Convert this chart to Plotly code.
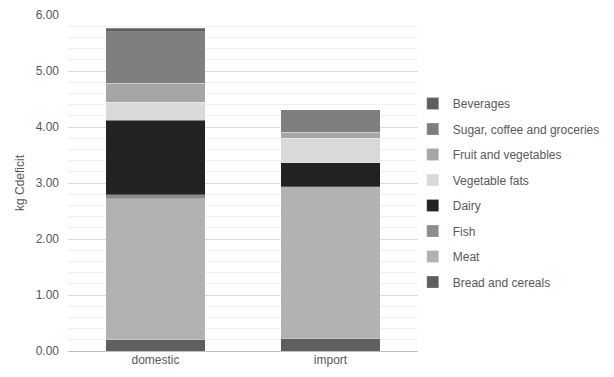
import plotly.graph_objects as go

categories = ["domestic", "import"]
series_names = ["Bread and cereals", "Meat", "Fish", "Dairy", "Vegetable fats",
                "Fruit and vegetables", "Sugar, coffee and groceries", "Beverages"]
bread = [0.20, 0.22]
meat = [2.52, 2.71]
fish = [0.07, 0.00]
dairy = [1.33, 0.43]
vegfats = [0.32, 0.44]
fruit = [0.34, 0.11]
sugar = [0.92, 0.40]
beverages = [0.06, 0.00]
values = [bread, meat, fish, dairy, vegfats, fruit, sugar, beverages]
colors = ["#5f5f5f", "#b2b2b2", "#8c8c8c", "#222222", "#d9d9d9",
          "#a6a6a6", "#7f7f7f", "#5f5f5f"]

fig = go.Figure()
n = len(series_names)
for i, (name, vals, col) in enumerate(zip(series_names, values, colors)):
    fig.add_trace(go.Bar(
        x=categories, y=vals, name=name, legendgroup=name,
        legendrank=1000 - i,
        marker=dict(color=col, line=dict(color="rgba(255,255,255,0.5)", width=0.5)),
        width=0.57,
    ))

font = dict(family="Liberation Sans, Arial, sans-serif", size=12, color="#595959")
fig.update_layout(
    barmode="stack",
    width=614, height=377,
    margin=dict(l=68, r=196, t=15, b=26, autoexpand=False),
    paper_bgcolor="white", plot_bgcolor="white",
    font=font,
    showlegend=True,
    legend=dict(traceorder="grouped", x=0.985, xanchor="left", y=0.47, yanchor="middle",
                font=dict(family="Liberation Sans, Arial, sans-serif", size=12, color="#595959"),
                tracegroupgap=6.5, itemwidth=30, bgcolor="rgba(0,0,0,0)"),
    xaxis=dict(range=[-0.5, 1.5], showgrid=False, showline=False, ticks="",
               tickfont=font),
    yaxis=dict(range=[0, 6], dtick=1, tickformat=".2f", showgrid=True,
               gridcolor="#d9d9d9", gridwidth=1,
               minor=dict(dtick=0.2, showgrid=True, gridcolor="#f0f0f0", gridwidth=1),
               zeroline=True, zerolinecolor="#bfbfbf", zerolinewidth=1,
               title=dict(text="kg Cdeficit", font=font, standoff=8),
               tickfont=font, ticks="", ticklabelstandoff=8),
)
fig.write_html("out.html")
